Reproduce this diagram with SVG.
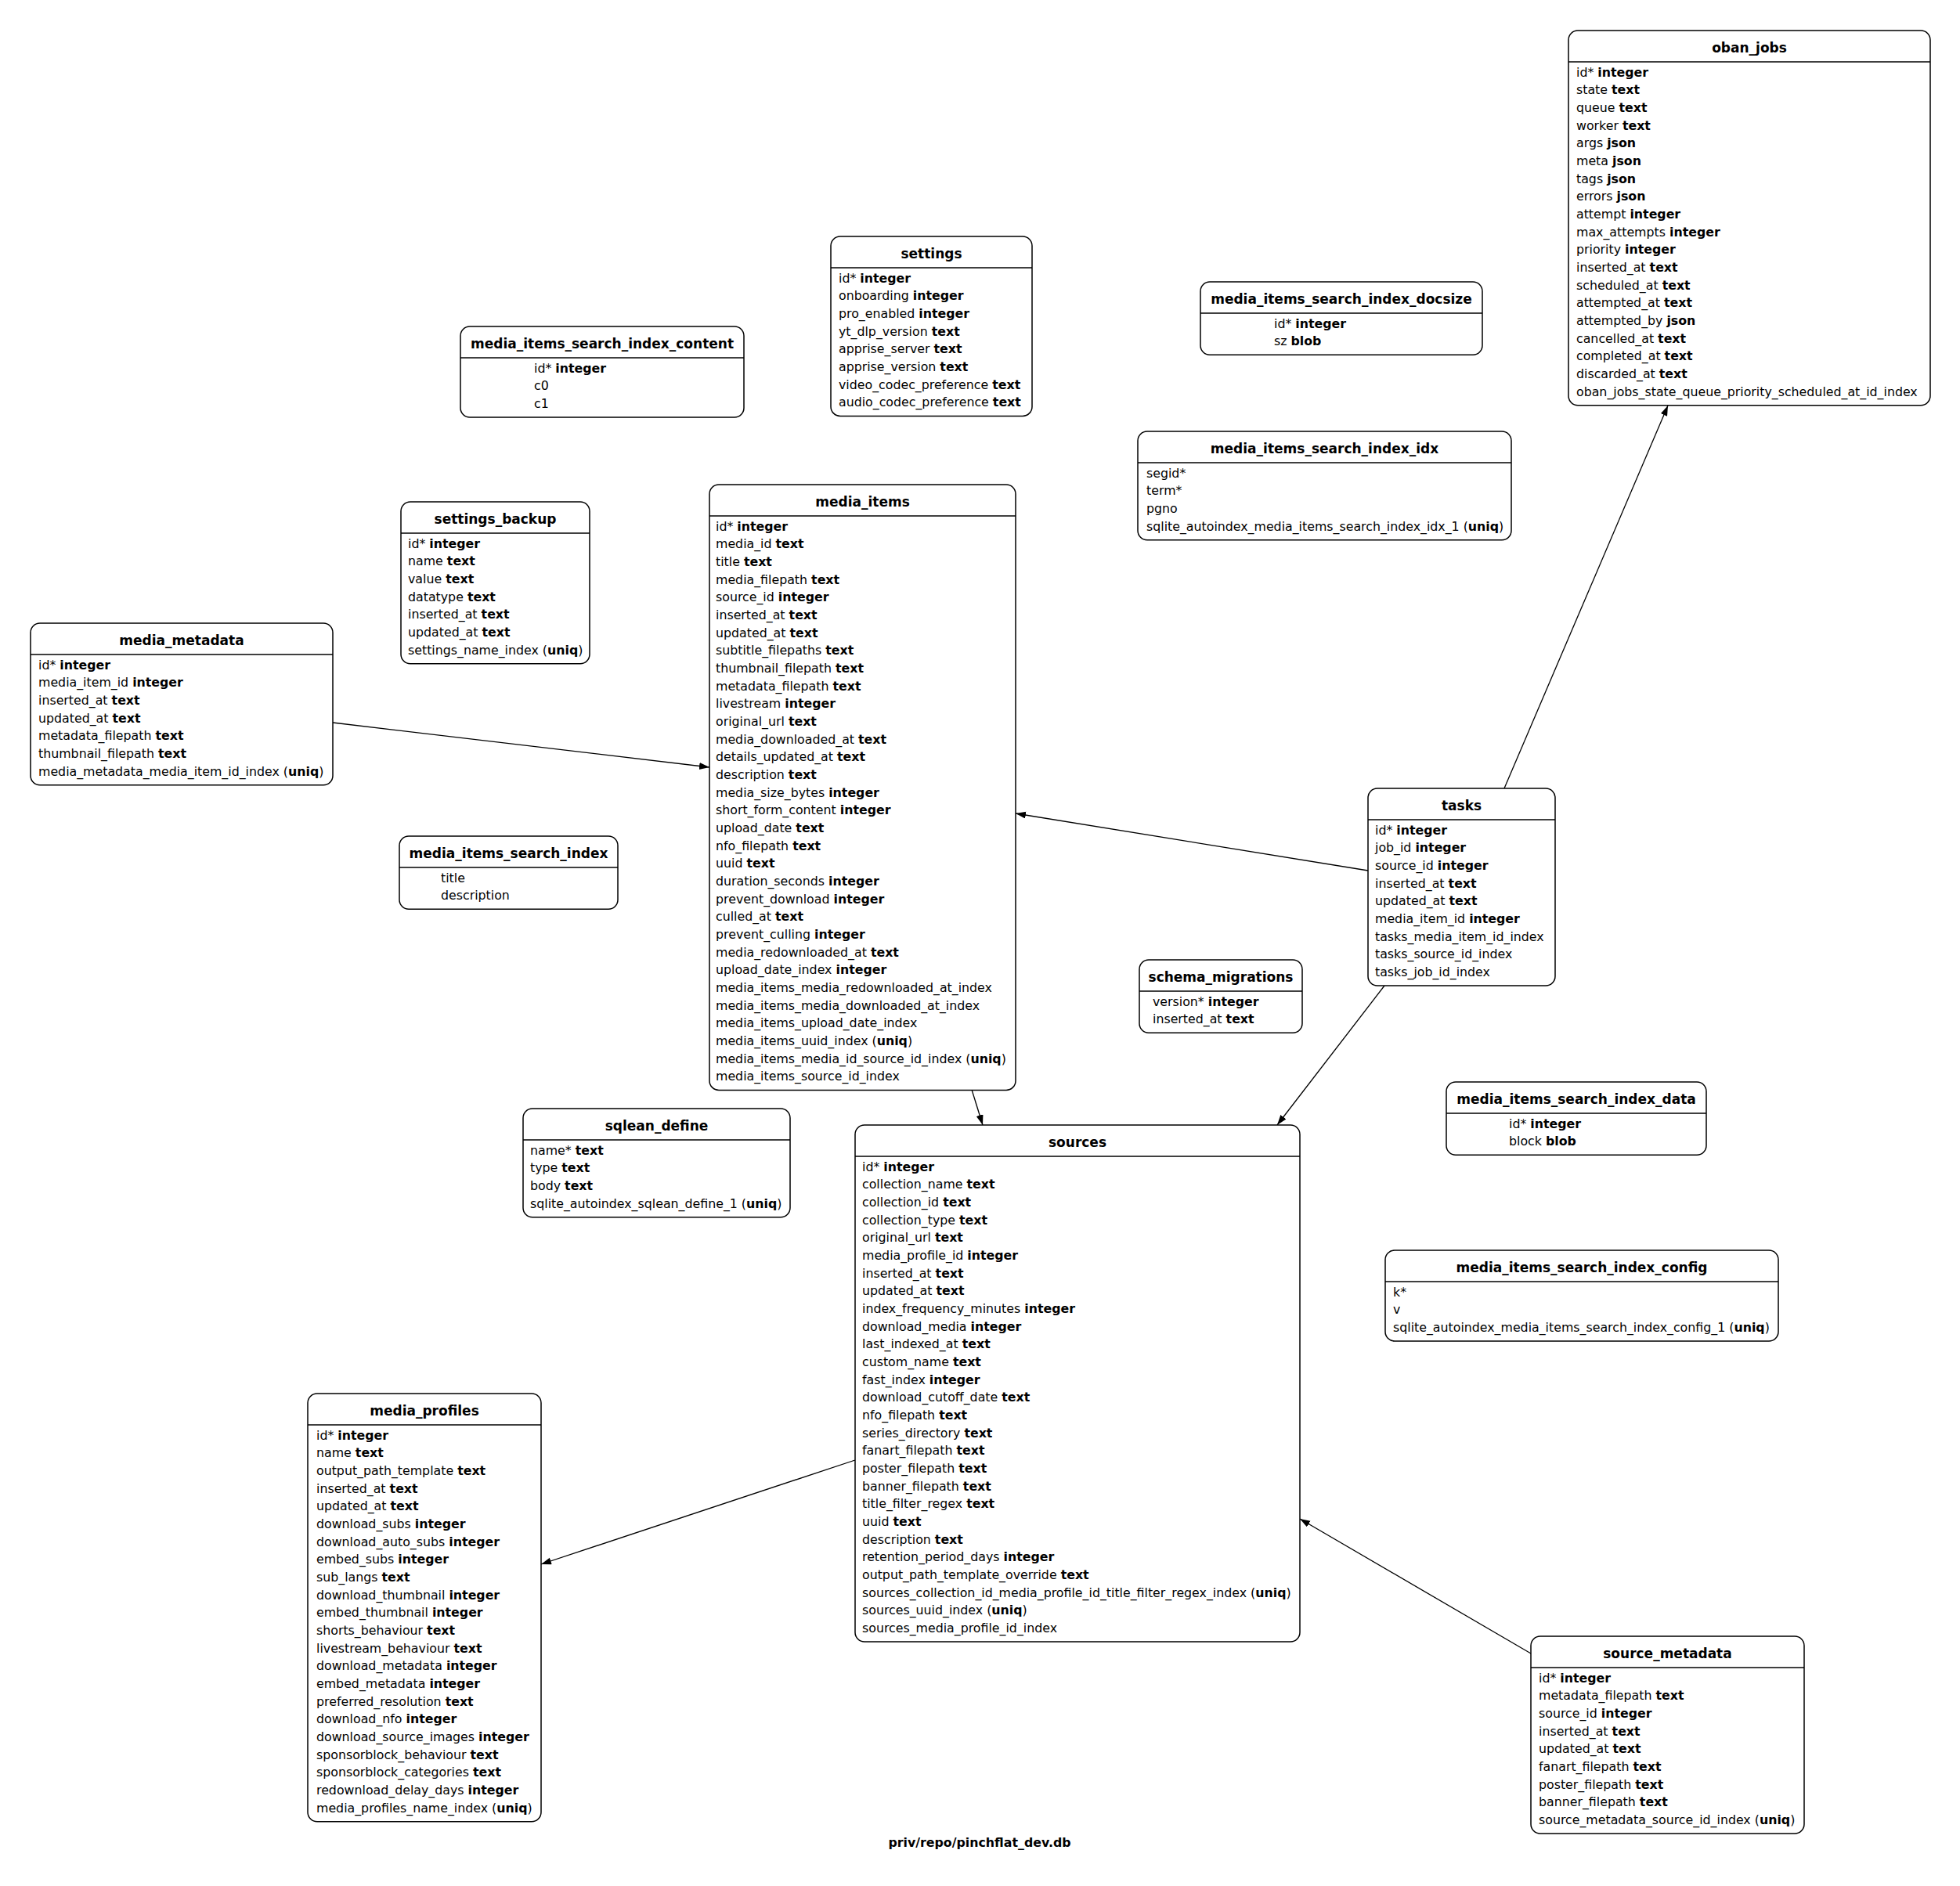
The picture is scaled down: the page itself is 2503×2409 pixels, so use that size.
<svg xmlns="http://www.w3.org/2000/svg" width="2503" height="2409" viewBox="0 0 2503 2409">
<style>
.box{fill:#fff;stroke:#000;stroke-width:1.5}
.hl{stroke:#000;stroke-width:1.5}
.t{font-family:"DejaVu Sans",sans-serif;font-size:17px;font-weight:bold;text-anchor:middle;fill:#000}
.ft{font-family:"DejaVu Sans",sans-serif;font-size:15.8px;font-weight:bold;text-anchor:middle;fill:#000}
.r{font-family:"DejaVu Sans",sans-serif;font-size:15.8px;fill:#000}
.b{font-weight:bold}
.e{stroke:#000;stroke-width:1.3;fill:none;marker-end:url(#arr)}
</style>
<defs>
<marker id="arr" markerUnits="userSpaceOnUse" markerWidth="14" markerHeight="10" refX="13" refY="4.5" orient="auto">
<path d="M0,0 L13,4.5 L0,9 z" fill="#000"/>
</marker>
</defs>
<rect x="0" y="0" width="2503" height="2409" fill="#fff"/>

<g id="edges">
<line class="e" x1="425" y1="923" x2="906" y2="980"/>
<line class="e" x1="1747" y1="1112" x2="1297" y2="1039"/>
<line class="e" x1="1921" y1="1007" x2="2130" y2="518"/>
<line class="e" x1="1768" y1="1259" x2="1631" y2="1437"/>
<line class="e" x1="1241" y1="1392" x2="1255" y2="1437"/>
<line class="e" x1="1092" y1="1865" x2="691" y2="1998"/>
<line class="e" x1="1955" y1="2112" x2="1660" y2="1940"/>
</g>

<g id="oban_jobs">
<rect class="box" x="2003" y="39" width="462" height="478.7" rx="12"/>
<line class="hl" x1="2003" y1="79" x2="2465" y2="79"/>
<text class="t" x="2234" y="66.5">oban_jobs</text>
<g class="r" transform="translate(2013,97.5)">
<text y="0">id* <tspan class="b">integer</tspan></text>
<text y="22.7">state <tspan class="b">text</tspan></text>
<text y="45.3">queue <tspan class="b">text</tspan></text>
<text y="68">worker <tspan class="b">text</tspan></text>
<text y="90.7">args <tspan class="b">json</tspan></text>
<text y="113.4">meta <tspan class="b">json</tspan></text>
<text y="136">tags <tspan class="b">json</tspan></text>
<text y="158.7">errors <tspan class="b">json</tspan></text>
<text y="181.4">attempt <tspan class="b">integer</tspan></text>
<text y="204">max_attempts <tspan class="b">integer</tspan></text>
<text y="226.7">priority <tspan class="b">integer</tspan></text>
<text y="249.4">inserted_at <tspan class="b">text</tspan></text>
<text y="272">scheduled_at <tspan class="b">text</tspan></text>
<text y="294.7">attempted_at <tspan class="b">text</tspan></text>
<text y="317.4">attempted_by <tspan class="b">json</tspan></text>
<text y="340">cancelled_at <tspan class="b">text</tspan></text>
<text y="362.7">completed_at <tspan class="b">text</tspan></text>
<text y="385.4">discarded_at <tspan class="b">text</tspan></text>
<text y="408.1">oban_jobs_state_queue_priority_scheduled_at_id_index</text>
</g>
</g>

<g id="settings">
<rect class="box" x="1061" y="302" width="257" height="229.4" rx="12"/>
<line class="hl" x1="1061" y1="342" x2="1318" y2="342"/>
<text class="t" x="1189.5" y="329.5">settings</text>
<g class="r" transform="translate(1071,360.5)">
<text y="0">id* <tspan class="b">integer</tspan></text>
<text y="22.7">onboarding <tspan class="b">integer</tspan></text>
<text y="45.3">pro_enabled <tspan class="b">integer</tspan></text>
<text y="68">yt_dlp_version <tspan class="b">text</tspan></text>
<text y="90.7">apprise_server <tspan class="b">text</tspan></text>
<text y="113.4">apprise_version <tspan class="b">text</tspan></text>
<text y="136">video_codec_preference <tspan class="b">text</tspan></text>
<text y="158.7">audio_codec_preference <tspan class="b">text</tspan></text>
</g>
</g>

<g id="media_items_search_index_content">
<rect class="box" x="588" y="417" width="362" height="116" rx="12"/>
<line class="hl" x1="588" y1="457" x2="950" y2="457"/>
<text class="t" x="769" y="444.5">media_items_search_index_content</text>
<g class="r" transform="translate(682,475.5)">
<text y="0">id* <tspan class="b">integer</tspan></text>
<text y="22.7">c0</text>
<text y="45.3">c1</text>
</g>
</g>

<g id="media_items_search_index_docsize">
<rect class="box" x="1533" y="360" width="360" height="93.3" rx="12"/>
<line class="hl" x1="1533" y1="400" x2="1893" y2="400"/>
<text class="t" x="1713" y="387.5">media_items_search_index_docsize</text>
<g class="r" transform="translate(1627,418.5)">
<text y="0">id* <tspan class="b">integer</tspan></text>
<text y="22.7">sz <tspan class="b">blob</tspan></text>
</g>
</g>

<g id="media_items_search_index_idx">
<rect class="box" x="1453" y="551" width="477" height="138.7" rx="12"/>
<line class="hl" x1="1453" y1="591" x2="1930" y2="591"/>
<text class="t" x="1691.5" y="578.5">media_items_search_index_idx</text>
<g class="r" transform="translate(1464,609.5)">
<text y="0">segid*</text>
<text y="22.7">term*</text>
<text y="45.3">pgno</text>
<text y="68">sqlite_autoindex_media_items_search_index_idx_1 (<tspan class="b">uniq</tspan>)</text>
</g>
</g>

<g id="media_items">
<rect class="box" x="906" y="619" width="391" height="773.4" rx="12"/>
<line class="hl" x1="906" y1="659" x2="1297" y2="659"/>
<text class="t" x="1101.5" y="646.5">media_items</text>
<g class="r" transform="translate(914,677.5)">
<text y="0">id* <tspan class="b">integer</tspan></text>
<text y="22.7">media_id <tspan class="b">text</tspan></text>
<text y="45.3">title <tspan class="b">text</tspan></text>
<text y="68">media_filepath <tspan class="b">text</tspan></text>
<text y="90.7">source_id <tspan class="b">integer</tspan></text>
<text y="113.4">inserted_at <tspan class="b">text</tspan></text>
<text y="136">updated_at <tspan class="b">text</tspan></text>
<text y="158.7">subtitle_filepaths <tspan class="b">text</tspan></text>
<text y="181.4">thumbnail_filepath <tspan class="b">text</tspan></text>
<text y="204">metadata_filepath <tspan class="b">text</tspan></text>
<text y="226.7">livestream <tspan class="b">integer</tspan></text>
<text y="249.4">original_url <tspan class="b">text</tspan></text>
<text y="272">media_downloaded_at <tspan class="b">text</tspan></text>
<text y="294.7">details_updated_at <tspan class="b">text</tspan></text>
<text y="317.4">description <tspan class="b">text</tspan></text>
<text y="340">media_size_bytes <tspan class="b">integer</tspan></text>
<text y="362.7">short_form_content <tspan class="b">integer</tspan></text>
<text y="385.4">upload_date <tspan class="b">text</tspan></text>
<text y="408.1">nfo_filepath <tspan class="b">text</tspan></text>
<text y="430.7">uuid <tspan class="b">text</tspan></text>
<text y="453.4">duration_seconds <tspan class="b">integer</tspan></text>
<text y="476.1">prevent_download <tspan class="b">integer</tspan></text>
<text y="498.7">culled_at <tspan class="b">text</tspan></text>
<text y="521.4">prevent_culling <tspan class="b">integer</tspan></text>
<text y="544.1">media_redownloaded_at <tspan class="b">text</tspan></text>
<text y="566.8">upload_date_index <tspan class="b">integer</tspan></text>
<text y="589.4">media_items_media_redownloaded_at_index</text>
<text y="612.1">media_items_media_downloaded_at_index</text>
<text y="634.8">media_items_upload_date_index</text>
<text y="657.4">media_items_uuid_index (<tspan class="b">uniq</tspan>)</text>
<text y="680.1">media_items_media_id_source_id_index (<tspan class="b">uniq</tspan>)</text>
<text y="702.8">media_items_source_id_index</text>
</g>
</g>

<g id="media_metadata">
<rect class="box" x="39" y="796" width="386" height="206.7" rx="12"/>
<line class="hl" x1="39" y1="836" x2="425" y2="836"/>
<text class="t" x="232" y="823.5">media_metadata</text>
<g class="r" transform="translate(49,854.5)">
<text y="0">id* <tspan class="b">integer</tspan></text>
<text y="22.7">media_item_id <tspan class="b">integer</tspan></text>
<text y="45.3">inserted_at <tspan class="b">text</tspan></text>
<text y="68">updated_at <tspan class="b">text</tspan></text>
<text y="90.7">metadata_filepath <tspan class="b">text</tspan></text>
<text y="113.4">thumbnail_filepath <tspan class="b">text</tspan></text>
<text y="136">media_metadata_media_item_id_index (<tspan class="b">uniq</tspan>)</text>
</g>
</g>

<g id="settings_backup">
<rect class="box" x="512" y="641" width="241" height="206.7" rx="12"/>
<line class="hl" x1="512" y1="681" x2="753" y2="681"/>
<text class="t" x="632.5" y="668.5">settings_backup</text>
<g class="r" transform="translate(521,699.5)">
<text y="0">id* <tspan class="b">integer</tspan></text>
<text y="22.7">name <tspan class="b">text</tspan></text>
<text y="45.3">value <tspan class="b">text</tspan></text>
<text y="68">datatype <tspan class="b">text</tspan></text>
<text y="90.7">inserted_at <tspan class="b">text</tspan></text>
<text y="113.4">updated_at <tspan class="b">text</tspan></text>
<text y="136">settings_name_index (<tspan class="b">uniq</tspan>)</text>
</g>
</g>

<g id="tasks">
<rect class="box" x="1747" y="1007" width="239" height="252" rx="12"/>
<line class="hl" x1="1747" y1="1047" x2="1986" y2="1047"/>
<text class="t" x="1866.5" y="1034.5">tasks</text>
<g class="r" transform="translate(1756,1065.5)">
<text y="0">id* <tspan class="b">integer</tspan></text>
<text y="22.7">job_id <tspan class="b">integer</tspan></text>
<text y="45.3">source_id <tspan class="b">integer</tspan></text>
<text y="68">inserted_at <tspan class="b">text</tspan></text>
<text y="90.7">updated_at <tspan class="b">text</tspan></text>
<text y="113.4">media_item_id <tspan class="b">integer</tspan></text>
<text y="136">tasks_media_item_id_index</text>
<text y="158.7">tasks_source_id_index</text>
<text y="181.4">tasks_job_id_index</text>
</g>
</g>

<g id="schema_migrations">
<rect class="box" x="1455" y="1226" width="208" height="93.3" rx="12"/>
<line class="hl" x1="1455" y1="1266" x2="1663" y2="1266"/>
<text class="t" x="1559" y="1253.5">schema_migrations</text>
<g class="r" transform="translate(1472,1284.5)">
<text y="0">version* <tspan class="b">integer</tspan></text>
<text y="22.7">inserted_at <tspan class="b">text</tspan></text>
</g>
</g>

<g id="sources">
<rect class="box" x="1092" y="1437" width="568" height="660.1" rx="12"/>
<line class="hl" x1="1092" y1="1477" x2="1660" y2="1477"/>
<text class="t" x="1376" y="1464.5">sources</text>
<g class="r" transform="translate(1101,1495.5)">
<text y="0">id* <tspan class="b">integer</tspan></text>
<text y="22.7">collection_name <tspan class="b">text</tspan></text>
<text y="45.3">collection_id <tspan class="b">text</tspan></text>
<text y="68">collection_type <tspan class="b">text</tspan></text>
<text y="90.7">original_url <tspan class="b">text</tspan></text>
<text y="113.4">media_profile_id <tspan class="b">integer</tspan></text>
<text y="136">inserted_at <tspan class="b">text</tspan></text>
<text y="158.7">updated_at <tspan class="b">text</tspan></text>
<text y="181.4">index_frequency_minutes <tspan class="b">integer</tspan></text>
<text y="204">download_media <tspan class="b">integer</tspan></text>
<text y="226.7">last_indexed_at <tspan class="b">text</tspan></text>
<text y="249.4">custom_name <tspan class="b">text</tspan></text>
<text y="272">fast_index <tspan class="b">integer</tspan></text>
<text y="294.7">download_cutoff_date <tspan class="b">text</tspan></text>
<text y="317.4">nfo_filepath <tspan class="b">text</tspan></text>
<text y="340">series_directory <tspan class="b">text</tspan></text>
<text y="362.7">fanart_filepath <tspan class="b">text</tspan></text>
<text y="385.4">poster_filepath <tspan class="b">text</tspan></text>
<text y="408.1">banner_filepath <tspan class="b">text</tspan></text>
<text y="430.7">title_filter_regex <tspan class="b">text</tspan></text>
<text y="453.4">uuid <tspan class="b">text</tspan></text>
<text y="476.1">description <tspan class="b">text</tspan></text>
<text y="498.7">retention_period_days <tspan class="b">integer</tspan></text>
<text y="521.4">output_path_template_override <tspan class="b">text</tspan></text>
<text y="544.1">sources_collection_id_media_profile_id_title_filter_regex_index (<tspan class="b">uniq</tspan>)</text>
<text y="566.8">sources_uuid_index (<tspan class="b">uniq</tspan>)</text>
<text y="589.4">sources_media_profile_id_index</text>
</g>
</g>

<g id="media_profiles">
<rect class="box" x="393" y="1780" width="298" height="546.7" rx="12"/>
<line class="hl" x1="393" y1="1820" x2="691" y2="1820"/>
<text class="t" x="542" y="1807.5">media_profiles</text>
<g class="r" transform="translate(404,1838.5)">
<text y="0">id* <tspan class="b">integer</tspan></text>
<text y="22.7">name <tspan class="b">text</tspan></text>
<text y="45.3">output_path_template <tspan class="b">text</tspan></text>
<text y="68">inserted_at <tspan class="b">text</tspan></text>
<text y="90.7">updated_at <tspan class="b">text</tspan></text>
<text y="113.4">download_subs <tspan class="b">integer</tspan></text>
<text y="136">download_auto_subs <tspan class="b">integer</tspan></text>
<text y="158.7">embed_subs <tspan class="b">integer</tspan></text>
<text y="181.4">sub_langs <tspan class="b">text</tspan></text>
<text y="204">download_thumbnail <tspan class="b">integer</tspan></text>
<text y="226.7">embed_thumbnail <tspan class="b">integer</tspan></text>
<text y="249.4">shorts_behaviour <tspan class="b">text</tspan></text>
<text y="272">livestream_behaviour <tspan class="b">text</tspan></text>
<text y="294.7">download_metadata <tspan class="b">integer</tspan></text>
<text y="317.4">embed_metadata <tspan class="b">integer</tspan></text>
<text y="340">preferred_resolution <tspan class="b">text</tspan></text>
<text y="362.7">download_nfo <tspan class="b">integer</tspan></text>
<text y="385.4">download_source_images <tspan class="b">integer</tspan></text>
<text y="408.1">sponsorblock_behaviour <tspan class="b">text</tspan></text>
<text y="430.7">sponsorblock_categories <tspan class="b">text</tspan></text>
<text y="453.4">redownload_delay_days <tspan class="b">integer</tspan></text>
<text y="476.1">media_profiles_name_index (<tspan class="b">uniq</tspan>)</text>
</g>
</g>

<g id="source_metadata">
<rect class="box" x="1955" y="2090" width="349" height="252" rx="12"/>
<line class="hl" x1="1955" y1="2130" x2="2304" y2="2130"/>
<text class="t" x="2129.5" y="2117.5">source_metadata</text>
<g class="r" transform="translate(1965,2148.5)">
<text y="0">id* <tspan class="b">integer</tspan></text>
<text y="22.7">metadata_filepath <tspan class="b">text</tspan></text>
<text y="45.3">source_id <tspan class="b">integer</tspan></text>
<text y="68">inserted_at <tspan class="b">text</tspan></text>
<text y="90.7">updated_at <tspan class="b">text</tspan></text>
<text y="113.4">fanart_filepath <tspan class="b">text</tspan></text>
<text y="136">poster_filepath <tspan class="b">text</tspan></text>
<text y="158.7">banner_filepath <tspan class="b">text</tspan></text>
<text y="181.4">source_metadata_source_id_index (<tspan class="b">uniq</tspan>)</text>
</g>
</g>

<g id="media_items_search_index">
<rect class="box" x="510" y="1068" width="279" height="93.3" rx="12"/>
<line class="hl" x1="510" y1="1108" x2="789" y2="1108"/>
<text class="t" x="649.5" y="1095.5">media_items_search_index</text>
<g class="r" transform="translate(563,1126.5)">
<text y="0">title</text>
<text y="22.7">description</text>
</g>
</g>

<g id="sqlean_define">
<rect class="box" x="668" y="1416" width="341" height="138.7" rx="12"/>
<line class="hl" x1="668" y1="1456" x2="1009" y2="1456"/>
<text class="t" x="838.5" y="1443.5">sqlean_define</text>
<g class="r" transform="translate(677,1474.5)">
<text y="0">name* <tspan class="b">text</tspan></text>
<text y="22.7">type <tspan class="b">text</tspan></text>
<text y="45.3">body <tspan class="b">text</tspan></text>
<text y="68">sqlite_autoindex_sqlean_define_1 (<tspan class="b">uniq</tspan>)</text>
</g>
</g>

<g id="media_items_search_index_data">
<rect class="box" x="1847" y="1382" width="332" height="93.3" rx="12"/>
<line class="hl" x1="1847" y1="1422" x2="2179" y2="1422"/>
<text class="t" x="2013" y="1409.5">media_items_search_index_data</text>
<g class="r" transform="translate(1927,1440.5)">
<text y="0">id* <tspan class="b">integer</tspan></text>
<text y="22.7">block <tspan class="b">blob</tspan></text>
</g>
</g>

<g id="media_items_search_index_config">
<rect class="box" x="1769" y="1597" width="502" height="116" rx="12"/>
<line class="hl" x1="1769" y1="1637" x2="2271" y2="1637"/>
<text class="t" x="2020" y="1624.5">media_items_search_index_config</text>
<g class="r" transform="translate(1779,1655.5)">
<text y="0">k*</text>
<text y="22.7">v</text>
<text y="45.3">sqlite_autoindex_media_items_search_index_config_1 (<tspan class="b">uniq</tspan>)</text>
</g>
</g>

<text class="ft" x="1251" y="2359">priv/repo/pinchflat_dev.db</text>
</svg>
